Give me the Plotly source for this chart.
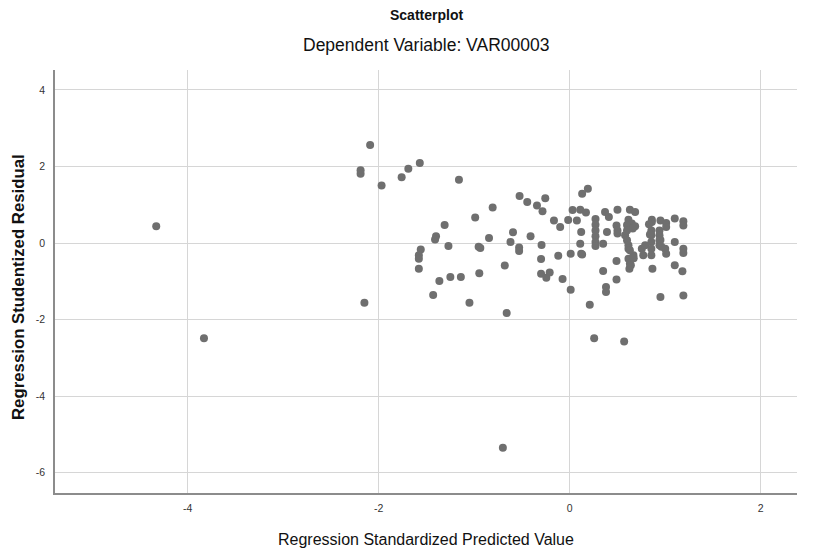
import plotly.graph_objects as go

# Regression Standardized Predicted Value (x) and Studentized Residual (y)
pred = [
    -4.33, -3.83, -0.70, -2.15,
    -2.09, -2.19, -2.19, -1.97, -1.76, -1.69, -1.57, -1.16,
    -0.525, -0.445, -0.343, -0.256, -0.285, -0.807, -0.99, -0.165, -0.10, -0.016,
    -1.31, -1.40, -1.41, -1.27, -1.56, -1.58, -1.58, -1.58,
    -0.845, -0.954, -0.936, -0.594, -0.62, -0.41, -0.53, -0.53, -0.295, -0.30,
    -0.12, 0.01, -0.68, -0.947, -1.14, -1.25, -1.365, -0.30, -0.245, -0.21,
    -0.075, 0.01, -1.43, -1.05, -0.66,
    0.19, 0.13, 0.03, 0.11, 0.17, 0.075, 0.12, 0.11, 0.12, 0.13, 0.21,
    0.27, 0.27, 0.27, 0.27, 0.27, 0.27,
    0.35, 0.35, 0.38, 0.38, 0.37, 0.41, 0.39,
    0.50, 0.49, 0.50, 0.50, 0.49, 0.49,
    0.58, 0.60, 0.615, 0.615, 0.63, 0.685, 0.615, 0.65, 0.685,
    0.615, 0.63, 0.625, 0.667, 0.755, 0.77, 0.79,
    0.86, 0.86, 0.855, 0.855, 0.855, 0.855, 0.855, 0.866,
    0.95, 1.01, 1.01, 0.94, 0.94, 0.94, 0.94, 1.00, 1.01, 0.95,
    1.10, 1.10, 1.10, 1.19, 1.19, 1.19, 1.19, 1.18, 1.19,
    0.256, 0.57,
    0.60, 0.60, 0.63, 0.64, 0.83, 0.84, 0.95, 0.96, 0.66, 0.67,
]
resid = [
    0.44, -2.49, -5.35, -1.56,
    2.56, 1.90, 1.81, 1.50, 1.72, 1.94, 2.09, 1.65,
    1.23, 1.07, 0.98, 1.17, 0.83, 0.93, 0.67, 0.59, 0.42, 0.60,
    0.47, 0.18, 0.09, -0.08, -0.17, -0.32, -0.41, -0.67,
    0.13, -0.10, -0.13, 0.28, 0.03, 0.18, -0.12, -0.21, -0.05, -0.42,
    -0.33, -0.28, -0.59, -0.79, -0.89, -0.89, -0.99, -0.80, -0.91, -0.77,
    -0.94, -1.22, -1.36, -1.56, -1.83,
    1.42, 1.29, 0.86, 0.87, 0.80, 0.59, 0.29, -0.02, -0.28, -0.30, -1.61,
    0.63, 0.48, 0.33, 0.18, 0.03, -0.08,
    -0.02, -0.73, -1.15, -1.28, 0.81, 0.68, 0.29,
    0.87, 0.46, 0.33, 0.25, -0.47, -0.95,
    0.20, 0.07, -0.06, -0.15, 0.87, 0.81, 0.61, 0.51, 0.44,
    -0.41, -0.54, -0.67, -0.32, -0.15, -0.32, -0.06,
    0.61, 0.55, 0.33, 0.20, 0.03, -0.15, -0.32, -0.67,
    0.59, 0.52, 0.42, 0.33, 0.20, 0.07, -0.06, -0.15, -0.28, -1.41,
    0.64, 0.03, -0.58, 0.57, 0.46, -0.15, -0.26, -0.74, -1.37,
    -2.49, -2.57,
    0.47, 0.33, -0.19, -0.58, 0.49, 0.22, 0.08, -0.10, 0.38, -0.40,
]

x_ticks = [-4, -2, 0, 2]
y_ticks = [4, 2, 0, -2, -4, -6]

FONT = "Liberation Sans, Arial, sans-serif"

W, H = 825, 549
L, R, T, B = 55, 28, 70, 56

fig = go.Figure()
fig.add_trace(go.Scatter(
    x=pred, y=resid, mode="markers",
    marker=dict(size=8, color="#6f6f6f", line=dict(width=0)),
    hoverinfo="x+y", showlegend=False,
))

plot_h = H - T - B
plot_w = W - L - R

fig.update_layout(
    width=W, height=H,
    margin=dict(l=L, r=R, t=T, b=B),
    paper_bgcolor="white", plot_bgcolor="white",
    font=dict(family=FONT, color="#222"),
    xaxis=dict(
        range=[-5.39, 2.38], tickvals=x_ticks, ticktext=[str(v) for v in x_ticks],
        showgrid=True, gridcolor="#d6d6d6", gridwidth=1,
        zeroline=False, showline=True, linecolor="#8c8c8c", linewidth=1.5,
        ticks="", ticklabelstandoff=5, tickfont=dict(size=10.5, family=FONT, color="#333"),
    ),
    yaxis=dict(
        range=[-6.53, 4.52], tickvals=y_ticks, ticktext=[str(v) for v in y_ticks],
        showgrid=True, gridcolor="#d6d6d6", gridwidth=1,
        zeroline=False, showline=True, linecolor="#8c8c8c", linewidth=1.5,
        ticks="", ticklabelstandoff=6, tickfont=dict(size=10.5, family=FONT, color="#333"),
    ),
    annotations=[
        dict(text="<b>Scatterplot</b>", x=0.5, y=1 + (T - 15) / plot_h,
             xref="paper", yref="paper", yanchor="middle",
             showarrow=False, font=dict(size=14, family=FONT, color="#111")),
        dict(text="Dependent Variable: VAR00003", x=0.5, y=1 + (T - 45) / plot_h,
             xref="paper", yref="paper", yanchor="middle",
             showarrow=False, font=dict(size=17.5, family=FONT, color="#111")),
        dict(text="Regression Standardized Predicted Value", x=0.5,
             y=-(539 - (H - B)) / plot_h, xref="paper", yref="paper", yanchor="middle",
             showarrow=False, font=dict(size=16, family=FONT, color="#111")),
        dict(text="<b>Regression Studentized Residual</b>", x=-(L - 18) / plot_w,
             y=((H - B) - 287) / plot_h, xref="paper", yref="paper",
             xanchor="center", yanchor="middle", showarrow=False, textangle=-90,
             font=dict(size=16.8, family=FONT, color="#111")),
    ],
)

fig.write_html(
    "out.html",
    config={"displayModeBar": False},
    post_script="document.body.style.margin='0';document.body.style.overflow='hidden';",
)
